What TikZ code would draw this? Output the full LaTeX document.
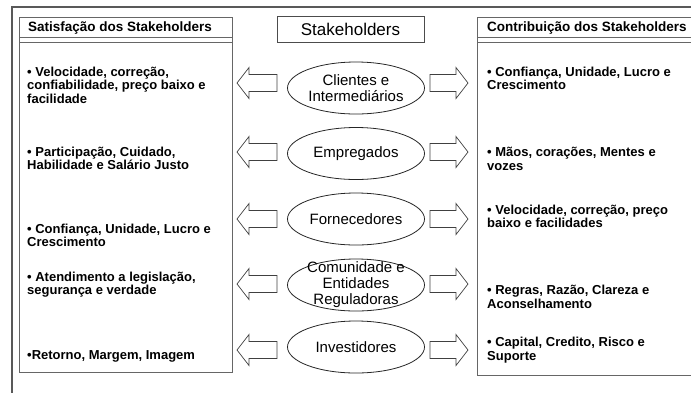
\documentclass[tikz,border=0pt]{standalone}
\usepackage{fontspec}
\setmainfont{Liberation Sans}
\usetikzlibrary{calc,shapes.geometric}
\tikzset{
  frame/.style={draw=black!65, line width=1.1pt},
  panel/.style={draw=black!60, line width=1pt},
  stake/.style={ellipse, draw=black!85, line width=0.8pt, minimum width=137pt, minimum height=52pt, inner sep=0pt},
  stxt/.style={align=center, inner sep=0pt, font=\fontsize{15}{16}\selectfont},
  item/.style={anchor=west, align=left, inner sep=0pt, font=\bfseries\fontsize{13}{13.5}\selectfont},
  head/.style={anchor=west, inner sep=0pt, font=\bfseries\fontsize{13.5}{14}\selectfont},
  fat/.style={draw=black!75, line width=0.7pt, line join=miter},
}
% block arrow from tail #1 to tip #2
\newcommand{\fatarrow}[2]{%
  \path ($(#2)!12pt!(#1)$) coordinate (hb);
  \draw[fat] ($(#1)!8.5pt!90:(#2)$) -- ($(hb)!8.5pt!90:(#2)$) -- ($(hb)!15.5pt!90:(#2)$)
    -- (#2) -- ($(hb)!15.5pt!-90:(#2)$) -- ($(hb)!8.5pt!-90:(#2)$) -- ($(#1)!8.5pt!-90:(#2)$) -- cycle;}

\begin{document}
\begin{tikzpicture}[x=1pt,y=-1pt]
  \useasboundingbox (0,0) rectangle (691,392);
  \clip (0,0) rectangle (691,392);

  % outer frame (cut by the page)
  \draw[frame] (12,400) -- (12,7) -- (700,7);

  % panels
  \draw[panel] (19,17) rectangle (232,372);
  \draw[panel] (19,37) -- (232,37) (19,42) -- (232,42);
  \draw[panel] (477,17) rectangle (700,375);
  \draw[panel] (477,37) -- (700,37) (477,42) -- (700,42);
  \node[head] (sat) at (28,28) {Satisfação dos Stakeholders};
  \node[head] (con) at (487,28) {Contribuição dos Stakeholders};

  \node[draw=black!70, line width=0.9pt, minimum width=147pt, minimum height=26pt, inner sep=0pt,
        font=\fontsize{17}{18}\selectfont] (stk) at (350.5,29) {Stakeholders};

  % stakeholders
  \node[stake] (cli) at (356,88) {};
  \node[stxt] at (cli) {Clientes e\\Intermediários};
  \node[stake] (emp) at (356,153.5) {};
  \node[stxt] at (emp) {Empregados};
  \node[stake] (for) at (356,219) {};
  \node[stxt] at (for) {Fornecedores};
  \node[stake] (com) at (356,285) {};
  \node[stxt] at (com) {Comunidade e\\Entidades\\Reguladoras};
  \node[stake] (inv) at (356,347) {};
  \node[stxt] at (inv) {Investidores};

  % arrows
  \foreach \y in {83,152,219,284,350}{
    \coordinate (lt) at (277,\y); \coordinate (lp) at (237,\y);
    \fatarrow{lt}{lp}
    \coordinate (rt) at (430,\y); \coordinate (rp) at (468,\y);
    \fatarrow{rt}{rp}
  }

  % satisfaction
  \node[item] (s1) at (27,85) {• Velocidade, correção,\\confiabilidade, preço baixo e\\facilidade};
  \node[item] (s2) at (27,158.5) {• Participação, Cuidado,\\Habilidade e Salário Justo};
  \node[item] (s3) at (27,235.5) {• Confiança, Unidade, Lucro e\\Crescimento};
  \node[item] (s4) at (27,284.5) {• Atendimento a legislação,\\segurança e verdade};
  \node[item] (s5) at (27,356) {•Retorno, Margem, Imagem};

  % contribution
  \node[item] (c1) at (487,78.5) {• Confiança, Unidade, Lucro e\\Crescimento};
  \node[item] (c2) at (487,159) {• Mãos, corações, Mentes e\\vozes};
  \node[item] (c3) at (487,216.5) {• Velocidade, correção, preço\\baixo e facilidades};
  \node[item] (c4) at (487,297) {• Regras, Razão, Clareza e\\Aconselhamento};
  \node[item] (c5) at (487,350) {• Capital, Credito, Risco e\\Suporte};
\end{tikzpicture}
\end{document}
